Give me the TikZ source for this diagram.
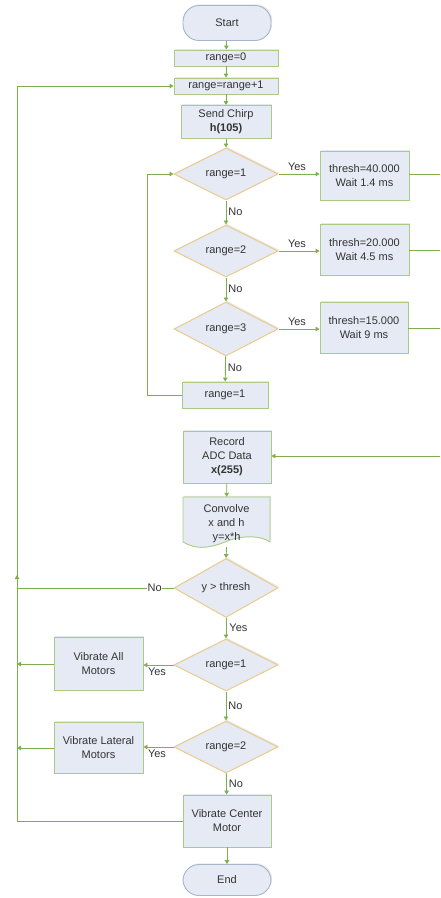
\documentclass[tikz,border=0pt]{standalone}
\usepackage{fontspec}
\setmainfont{Liberation Sans}
\usetikzlibrary{shapes.geometric,arrows.meta,shadows,calc}
\definecolor{boxfill}{HTML}{E6EAF4}
\definecolor{boxline}{HTML}{A9CC84}
\definecolor{dialine}{HTML}{EBCB8B}
\definecolor{termline}{HTML}{A8B4CC}
\definecolor{conn}{HTML}{7DAF4E}
\definecolor{txt}{HTML}{333333}
\tikzset{
  base/.style={fill=boxfill, inner sep=0pt, align=center, text=txt,
    font=\fontsize{11}{14}\selectfont,
    drop shadow={opacity=0.18, shadow xshift=1.2pt, shadow yshift=1.2pt}},
  proc/.style={base, draw=boxline, line width=0.9pt, rectangle},
  dec/.style={base, draw=dialine, line width=1pt, diamond, minimum width=104pt, minimum height=52pt},
  term/.style={base, draw=termline, line width=0.9pt, rectangle, rounded corners=16pt},
  link/.style={draw=conn, line width=0.9pt},
  arr/.style={link, -{Triangle[width=4.5pt,length=4pt]}},
  lbl/.style={font=\fontsize{11}{13}\selectfont, text=txt, inner sep=1pt},
}
\begin{document}
\begin{tikzpicture}[x=1pt,y=-1pt]
\useasboundingbox (0,0) rectangle (440,898);
% nodes
\node[term, minimum width=88pt, minimum height=35pt] (start) at (227,23) {Start};
\node[proc, minimum width=104pt, minimum height=16pt] (r0) at (226,58) {range=0};
\node[proc, minimum width=104pt, minimum height=16pt] (rinc) at (226,86) {range=range+1};
\node[proc, minimum width=90pt, minimum height=33pt] (chirp) at (226,122) {Send Chirp\\\textbf{h(105)}};
\node[dec] (d1) at (226,174) {range=1};
\node[dec] (d2) at (226,251) {range=2};
\node[dec, minimum height=54pt] (d3) at (226,329) {range=3};
\node[proc, minimum width=89pt, minimum height=49pt] (t1) at (364.5,176) {thresh=40.000\\Wait 1.4 ms};
\node[proc, minimum width=89pt, minimum height=51pt] (t2) at (364.5,250) {thresh=20.000\\Wait 4.5 ms};
\node[proc, minimum width=88pt, minimum height=51pt] (t3) at (364,328) {thresh=15.000\\Wait 9 ms};
\node[proc, minimum width=86pt, minimum height=26pt] (r1) at (225,395) {range=1};
\node[proc, minimum width=88pt, minimum height=52pt] (rec) at (227,457) {Record\\ADC Data\\\textbf{x(255)}};
% document shape
\node[minimum width=87pt, minimum height=50pt, inner sep=0pt] (conv) at (226.5,522) {};
\fill[boxfill, drop shadow={opacity=0.18, shadow xshift=1.2pt, shadow yshift=1.2pt}]
  (183,497) -- (270,497) -- (270,542) .. controls (262,536) and (245,535) .. (230,540)
  .. controls (215,546) and (200,552) .. (183,542) -- cycle;
\draw[boxline, line width=0.9pt]
  (183,497) -- (270,497) -- (270,542) .. controls (262,536) and (245,535) .. (230,540)
  .. controls (215,546) and (200,552) .. (183,542) -- cycle;
\node[align=center, text=txt, font=\fontsize{11}{14}\selectfont, inner sep=0pt] (convtext) at (226.5,523.5) {Convolve\\x and h\\y=x*h};
\node[dec, minimum height=51pt] (dy) at (226,588) {y > thresh};
\node[dec] (dm1) at (226,665) {range=1};
\node[dec] (dm2) at (226,747) {range=2};
\node[proc, minimum width=89pt, minimum height=53pt] (va) at (98.5,664) {Vibrate All\\Motors};
\node[proc, minimum width=89pt, minimum height=51pt] (vl) at (98.5,748) {Vibrate Lateral\\Motors};
\node[proc, minimum width=88pt, minimum height=52pt] (vc) at (227,821) {Vibrate Center\\Motor};
\node[term, minimum width=88pt, minimum height=31pt] (end) at (227,880) {End};
% coordinates
\coordinate (e1) at (440,174);
\coordinate (e2) at (440,250);
\coordinate (e3) at (440,328);
\coordinate (e4) at (440,456);
\coordinate (lx) at (147,0);
\coordinate (tx) at (17,0);
\coordinate (up) at (17,575);
% main flow
\draw[arr] (start) -- (r0);
\draw[arr] (r0) -- (rinc);
\draw[arr] (rinc) -- (chirp);
\draw[arr] (chirp) -- (d1);
\draw[arr] (d1) -- node[lbl, pos=0.45, anchor=west, xshift=1pt] {No} (d2);
\draw[arr] (d2) -- node[lbl, pos=0.45, anchor=west, xshift=1pt] {No} (d3);
\draw[arr] (d3) -- node[lbl, pos=0.45, anchor=west, xshift=1pt] {No} (r1);
\draw[arr] (d1.east) -- node[lbl, pos=0.45, above, yshift=2pt] {Yes} (t1.west |- d1.east);
\draw[arr] (d2.east) -- node[lbl, pos=0.45, above, yshift=2pt] {Yes} (t2.west |- d2.east);
\draw[arr] (d3.east) -- node[lbl, pos=0.45, above, yshift=2pt] {Yes} (t3.west |- d3.east);
\draw[link] (t1.east |- e1) -- (e1);
\draw[link] (t2.east |- e2) -- (e2);
\draw[link] (t3.east |- e3) -- (e3);
\draw[arr] (r1.west) -- (lx |- r1.west) -- (lx |- d1.west) -- (d1.west);
\draw[arr] (e4) -- (rec.east |- e4);
\draw[arr] (rec) -- (conv);
\draw[arr] (conv.south) -- (dy.north);
\draw[link] (dy.west) -- node[lbl, pos=0.12, fill=white, inner sep=0.5pt] {No} (tx |- dy.west);
\draw[arr] (dy) -- node[lbl, pos=0.5, anchor=west, xshift=2pt] {Yes} (dm1);
\draw[arr] (dm1.west) -- node[lbl, pos=0.55, below, yshift=-1pt] {Yes} (va.east |- dm1.west);
\draw[arr] (va.west) -- (tx |- va.west);
\draw[arr] (dm1) -- node[lbl, pos=0.5, anchor=west, xshift=1pt] {No} (dm2);
\draw[arr] (dm2.west) -- node[lbl, pos=0.55, below, yshift=-1pt] {Yes} (vl.east |- dm2.west);
\draw[arr] (vl.west) -- (tx |- vl.west);
\draw[arr] (dm2) -- node[lbl, pos=0.5, anchor=west, xshift=1pt] {No} (vc);
\draw[arr] (vc) -- (end);
\draw[arr] (vc.west) -- (tx |- vc.west) -- (tx |- rinc.west) -- (rinc.west);
\draw[arr] (tx |- dy.west) -- (up);
\end{tikzpicture}
\end{document}
